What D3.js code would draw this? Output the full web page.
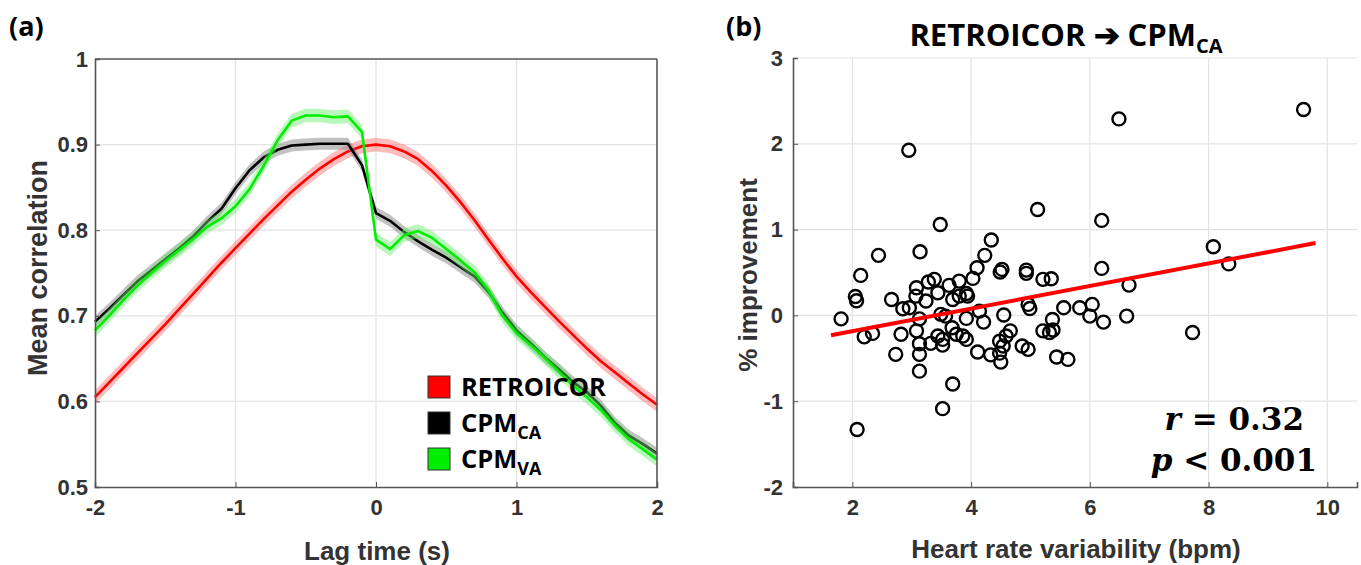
<!DOCTYPE html>
<html><head><meta charset="utf-8">
<script src="https://cdn.jsdelivr.net/npm/d3@7"></script>
<style>
body{margin:0;background:#fff;}
svg{display:block;}
.tick text{font-family:"Liberation Sans",Arial,sans-serif;font-weight:bold;font-size:22px;fill:#333;}
.lbl{font-family:"Liberation Sans",Arial,sans-serif;font-weight:bold;font-size:26px;fill:#333;}
.hum{font-family:"Open Sans",sans-serif;font-weight:700;fill:#000;}
</style></head>
<body>
<script>
// ---------- Panel (a) data ----------
const lagTimes = d3.range(41).map(i => +(-2 + i * 0.1).toFixed(1));
const retroicor = [0.605,0.622,0.639,0.656,0.673,0.690,0.708,0.726,0.744,0.762,0.779,0.796,0.813,0.829,0.845,0.859,0.872,0.883,0.892,0.898,0.900,0.898,0.892,0.883,0.869,0.852,0.833,0.812,0.789,0.767,0.746,0.728,0.711,0.694,0.678,0.662,0.647,0.634,0.621,0.608,0.596];
const cpmCA = [0.693,0.708,0.724,0.740,0.753,0.766,0.779,0.793,0.810,0.825,0.849,0.870,0.885,0.894,0.899,0.900,0.901,0.901,0.901,0.876,0.820,0.811,0.798,0.787,0.777,0.768,0.757,0.746,0.728,0.704,0.683,0.668,0.652,0.638,0.623,0.611,0.595,0.575,0.560,0.550,0.539];
const cpmVA = [0.683,0.700,0.718,0.735,0.750,0.764,0.777,0.790,0.804,0.814,0.828,0.848,0.875,0.905,0.928,0.934,0.934,0.932,0.933,0.915,0.789,0.778,0.794,0.799,0.791,0.778,0.765,0.751,0.730,0.700,0.680,0.666,0.651,0.635,0.619,0.605,0.590,0.572,0.556,0.544,0.532];
const bandHalf = [0.008,0.007,0.008];
const seriesNames = ["RETROICOR","CPM","CPM"];
const seriesSubs = ["","CA","VA"];
const seriesColors = ["#ff0000","#000000","#00ee00"];
const bandColors = ["#ff6a6a","#777777","#66ee66"];
const xTicksA = [-2,-1,0,1,2];
const yTicksA = [0.5,0.6,0.7,0.8,0.9,1];

// ---------- Panel (b) data ----------
const hrv = [5.12,6.20,3.48,4.34,3.14,2.44,4.23,4.10,4.52,4.49,4.93,4.93,6.20,2.14,5.21,5.35,4.03,3.38,3.28,3.80,3.63,3.08,6.66,3.44,3.92,3.80,3.07,2.66,2.05,2.07,3.24,3.69,3.94,4.96,4.99,5.56,5.83,6.04,6.00,2.85,2.96,4.14,4.55,3.49,3.13,3.57,3.92,4.21,5.37,6.23,6.62,2.20,2.34,2.82,3.08,5.21,5.32,5.38,4.66,4.59,3.68,3.75,3.86,3.92,3.44,3.52,3.52,3.32,3.13,4.48,4.54,4.86,4.96,4.11,4.33,4.48,4.50,3.13,2.73,5.44,5.63,3.13,3.69,3.52,2.08,9.60,6.49,2.95,8.08,8.34,7.73,1.81];
const improvement = [1.235,1.107,1.06,0.878,0.742,0.70,0.70,0.555,0.536,0.505,0.528,0.49,0.548,0.466,0.42,0.427,0.431,0.42,0.39,0.40,0.35,0.322,0.353,0.264,0.256,0.225,0.225,0.186,0.22,0.17,0.167,0.186,0.225,0.128,0.08,0.09,0.09,0.128,-0.008,0.078,0.09,0.05,0.004,0.012,-0.04,-0.008,-0.035,-0.078,-0.047,-0.078,-0.008,-0.25,-0.21,-0.22,-0.18,-0.18,-0.20,-0.17,-0.18,-0.24,-0.144,-0.22,-0.24,-0.28,-0.24,-0.28,-0.346,-0.326,-0.33,-0.30,-0.357,-0.357,-0.396,-0.427,-0.46,-0.44,-0.544,-0.454,-0.454,-0.485,-0.513,-0.65,-0.80,-1.087,-1.33,2.40,2.29,1.924,0.80,0.60,-0.20,-0.04];
const fitX = [1.64, 9.80];
const fitY = [-0.232, 0.843];
const xTicksB = [2,4,6,8,10];
const yTicksB = [-2,-1,0,1,2,3];

const W = 1361, H = 565;
const svg = d3.select("body").append("svg").attr("width", W).attr("height", H);

// ================= Panel (a) =================
const xa = d3.scaleLinear().domain([-2,2]).range([95,657]);
const ya = d3.scaleLinear().domain([0.5,1]).range([487,59]);
const ga = svg.append("g");
ga.append("g").selectAll("line").data(xTicksA.slice(1,-1)).join("line")
  .attr("x1",d=>xa(d)).attr("x2",d=>xa(d)).attr("y1",59).attr("y2",487)
  .attr("stroke","#e3e3e3").attr("stroke-width",1.2);
ga.append("g").selectAll("line").data(yTicksA.slice(1,-1)).join("line")
  .attr("y1",d=>ya(d)).attr("y2",d=>ya(d)).attr("x1",95).attr("x2",657)
  .attr("stroke","#e3e3e3").attr("stroke-width",1.2);

const seriesA = [retroicor, cpmCA, cpmVA];
seriesA.forEach((vals, i) => {
  const pts = lagTimes.map((t,k)=>({t, v: vals[k]}));
  const area = d3.area().x(d=>xa(d.t)).y0(d=>ya(d.v - bandHalf[i])).y1(d=>ya(d.v + bandHalf[i]));
  ga.append("path").datum(pts).attr("d", area).attr("fill", bandColors[i]).attr("opacity", 0.45);
  const line = d3.line().x(d=>xa(d.t)).y(d=>ya(d.v));
  ga.append("path").datum(pts).attr("d", line).attr("fill","none")
    .attr("stroke", seriesColors[i]).attr("stroke-width", 2.6).attr("stroke-linejoin","round");
});

const axA_x = ga.append("g").attr("transform","translate(0,487)")
  .call(d3.axisBottom(xa).tickValues(xTicksA).tickFormat(d=>String(d)).tickSize(-5).tickPadding(12));
const axA_y = ga.append("g").attr("transform","translate(95,0)")
  .call(d3.axisLeft(ya).tickValues(yTicksA).tickFormat(d=>String(d)).tickSize(-5).tickPadding(7));
[axA_x, axA_y].forEach(a=>{a.select(".domain").attr("stroke","#555").attr("stroke-width",1.6);
  a.selectAll(".tick line").attr("stroke","#555");});
ga.append("line").attr("x1",95).attr("x2",657).attr("y1",59).attr("y2",59).attr("stroke","#555").attr("stroke-width",1.6);
ga.append("line").attr("x1",657).attr("x2",657).attr("y1",59).attr("y2",487).attr("stroke","#555").attr("stroke-width",1.6);

ga.append("text").attr("class","lbl").attr("x",377).attr("y",560).attr("text-anchor","middle").text("Lag time (s)");
ga.append("text").attr("class","lbl").attr("transform","translate(47,268) rotate(-90)").attr("text-anchor","middle").attr("font-size",27).style("font-size","27px").text("Mean correlation");
svg.append("text").attr("class","hum").attr("x",9).attr("y",36).attr("font-size",27).text("(a)");

const leg = ga.append("g");
seriesNames.forEach((nm,i)=>{
  const yy = 376 + i*36;
  leg.append("rect").attr("x",428).attr("y",yy).attr("width",22).attr("height",22)
    .attr("fill",seriesColors[i]).attr("stroke","#333").attr("stroke-width",1);
  const t = leg.append("text").attr("class","hum").attr("x",461).attr("y",yy+20).attr("font-size",25.5).attr("font-weight",600);
  t.append("tspan").text(nm);
  if (seriesSubs[i]) t.append("tspan").attr("font-size",18).attr("dy",7).text(seriesSubs[i]);
});

// ================= Panel (b) =================
const xb = d3.scaleLinear().domain([1,10.5]).range([793,1357]);
const yb = d3.scaleLinear().domain([-2,3]).range([487,58]);
const gb = svg.append("g");
gb.append("g").selectAll("line").data(xTicksB).join("line")
  .attr("x1",d=>xb(d)).attr("x2",d=>xb(d)).attr("y1",58).attr("y2",487)
  .attr("stroke","#e3e3e3").attr("stroke-width",1.2);
gb.append("g").selectAll("line").data(yTicksB.slice(1)).join("line")
  .attr("y1",d=>yb(d)).attr("y2",d=>yb(d)).attr("x1",793).attr("x2",1357)
  .attr("stroke","#e3e3e3").attr("stroke-width",1.2);

gb.append("g").selectAll("circle").data(hrv.map((h,i)=>({h, v: improvement[i]}))).join("circle")
  .attr("cx",d=>xb(d.h)).attr("cy",d=>yb(d.v)).attr("r",6.5)
  .attr("fill","none").attr("stroke","#000").attr("stroke-width",2.4);

gb.append("line").attr("x1",xb(fitX[0])).attr("y1",yb(fitY[0])).attr("x2",xb(fitX[1])).attr("y2",yb(fitY[1]))
  .attr("stroke","#ff0000").attr("stroke-width",4);

const axB_x = gb.append("g").attr("transform","translate(0,487)")
  .call(d3.axisBottom(xb).tickValues(xTicksB).tickFormat(d=>String(d)).tickSize(-5).tickPadding(12));
const axB_y = gb.append("g").attr("transform","translate(793,0)")
  .call(d3.axisLeft(yb).tickValues(yTicksB).tickFormat(d=>String(d)).tickSize(-5).tickPadding(10));
[axB_x, axB_y].forEach(a=>{a.select(".domain").attr("stroke","#555").attr("stroke-width",1.6);
  a.selectAll(".tick line").attr("stroke","#555");});

gb.append("text").attr("class","lbl").attr("x",1076).attr("y",558).attr("text-anchor","middle").text("Heart rate variability (bpm)");
gb.append("text").attr("class","lbl").attr("transform","translate(757,275) rotate(-90)").attr("text-anchor","middle").text("% improvement");
svg.append("text").attr("class","hum").attr("x",726).attr("y",36).attr("font-size",27).text("(b)");

const ttl = gb.append("text").attr("class","hum").attr("x",1066).attr("y",46).attr("text-anchor","middle").attr("font-size",31).attr("font-weight",600);
ttl.append("tspan").text("RETROICOR \u2794 CPM");
ttl.append("tspan").attr("font-size",20).attr("dy",7).text("CA");

const st1 = gb.append("text").attr("x",1304).attr("y",430).attr("text-anchor","end")
  .attr("font-family","'DejaVu Serif',serif").attr("font-weight","bold").attr("font-size",31);
st1.append("tspan").attr("font-style","italic").text("r");
st1.append("tspan").text(" = 0.32");
const st2 = gb.append("text").attr("x",1317).attr("y",471).attr("text-anchor","end")
  .attr("font-family","'DejaVu Serif',serif").attr("font-weight","bold").attr("font-size",31);
st2.append("tspan").attr("font-style","italic").text("p");
st2.append("tspan").text(" < 0.001");
</script>
</body></html>
